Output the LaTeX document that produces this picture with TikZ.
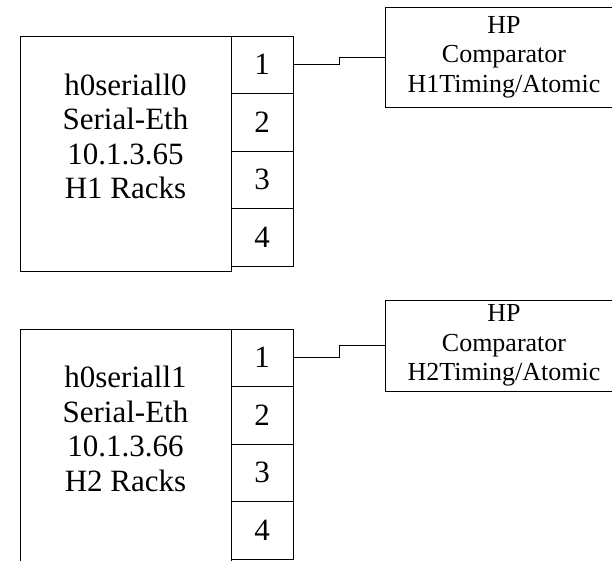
\documentclass[tikz,border=0pt]{standalone}
\usepackage{fontspec}
\setmainfont{Liberation Serif}
\usepackage{tikz}
\usetikzlibrary{positioning}

\tikzset{
    host/.style = {draw, outer sep=0pt, minimum width=211pt},
    port/.style = {draw, outer sep=0pt, inner sep=0pt, minimum width=62pt, minimum height=57.5pt, font=\fontsize{31}{34}\selectfont},
    hostlabel/.style = {align=center, inner sep=0pt, font=\fontsize{31}{34.5}\selectfont},
    comparator/.style = {draw, outer sep=0pt, minimum width=238pt, align=center, font=\fontsize{26}{29.5}\selectfont}
}

\begin{document}
\begin{tikzpicture}[x=1pt, y=-1pt, line width=0.75pt, node distance=0pt]
                \useasboundingbox (0,0) rectangle (612,560);

                % Nodes
                \node (h0) [host, minimum height=235pt] at (125.5,153.5) {};
                \node (h0lbl) [hostlabel] at (125.5,136.5) {h0seriall0\\Serial-Eth\\10.1.3.65\\H1 Racks};
                \node (h0p1) [port, anchor=north west] at (h0.north east) {1};
                \node (h0p2) [port, below=of h0p1] {2};
                \node (h0p3) [port, below=of h0p2] {3};
                \node (h0p4) [port, below=of h0p3] {4};
                \node (c0) [comparator, minimum height=100pt] at (504,57) {HP\\Comparator\\H1Timing/Atomic};

                \node (h1) [host, minimum height=240pt] at (125.5,449) {};
                \node (h1lbl) [hostlabel] at (125.5,429) {h0seriall1\\Serial-Eth\\10.1.3.66\\H2 Racks};
                \node (h1p1) [port, anchor=north west] at (h1.north east) {1};
                \node (h1p2) [port, below=of h1p1] {2};
                \node (h1p3) [port, below=of h1p2] {3};
                \node (h1p4) [port, below=of h1p3] {4};
                \node (c1) [comparator, minimum height=91pt] at (504,345.5) {HP\\Comparator\\H2Timing/Atomic};

                % Edges
                \draw (h0p1.east) -- ++(46,0) |- (c0.west);
                \draw (h1p1.east) -- ++(46,0) |- (c1.west);
\end{tikzpicture}
\end{document}
